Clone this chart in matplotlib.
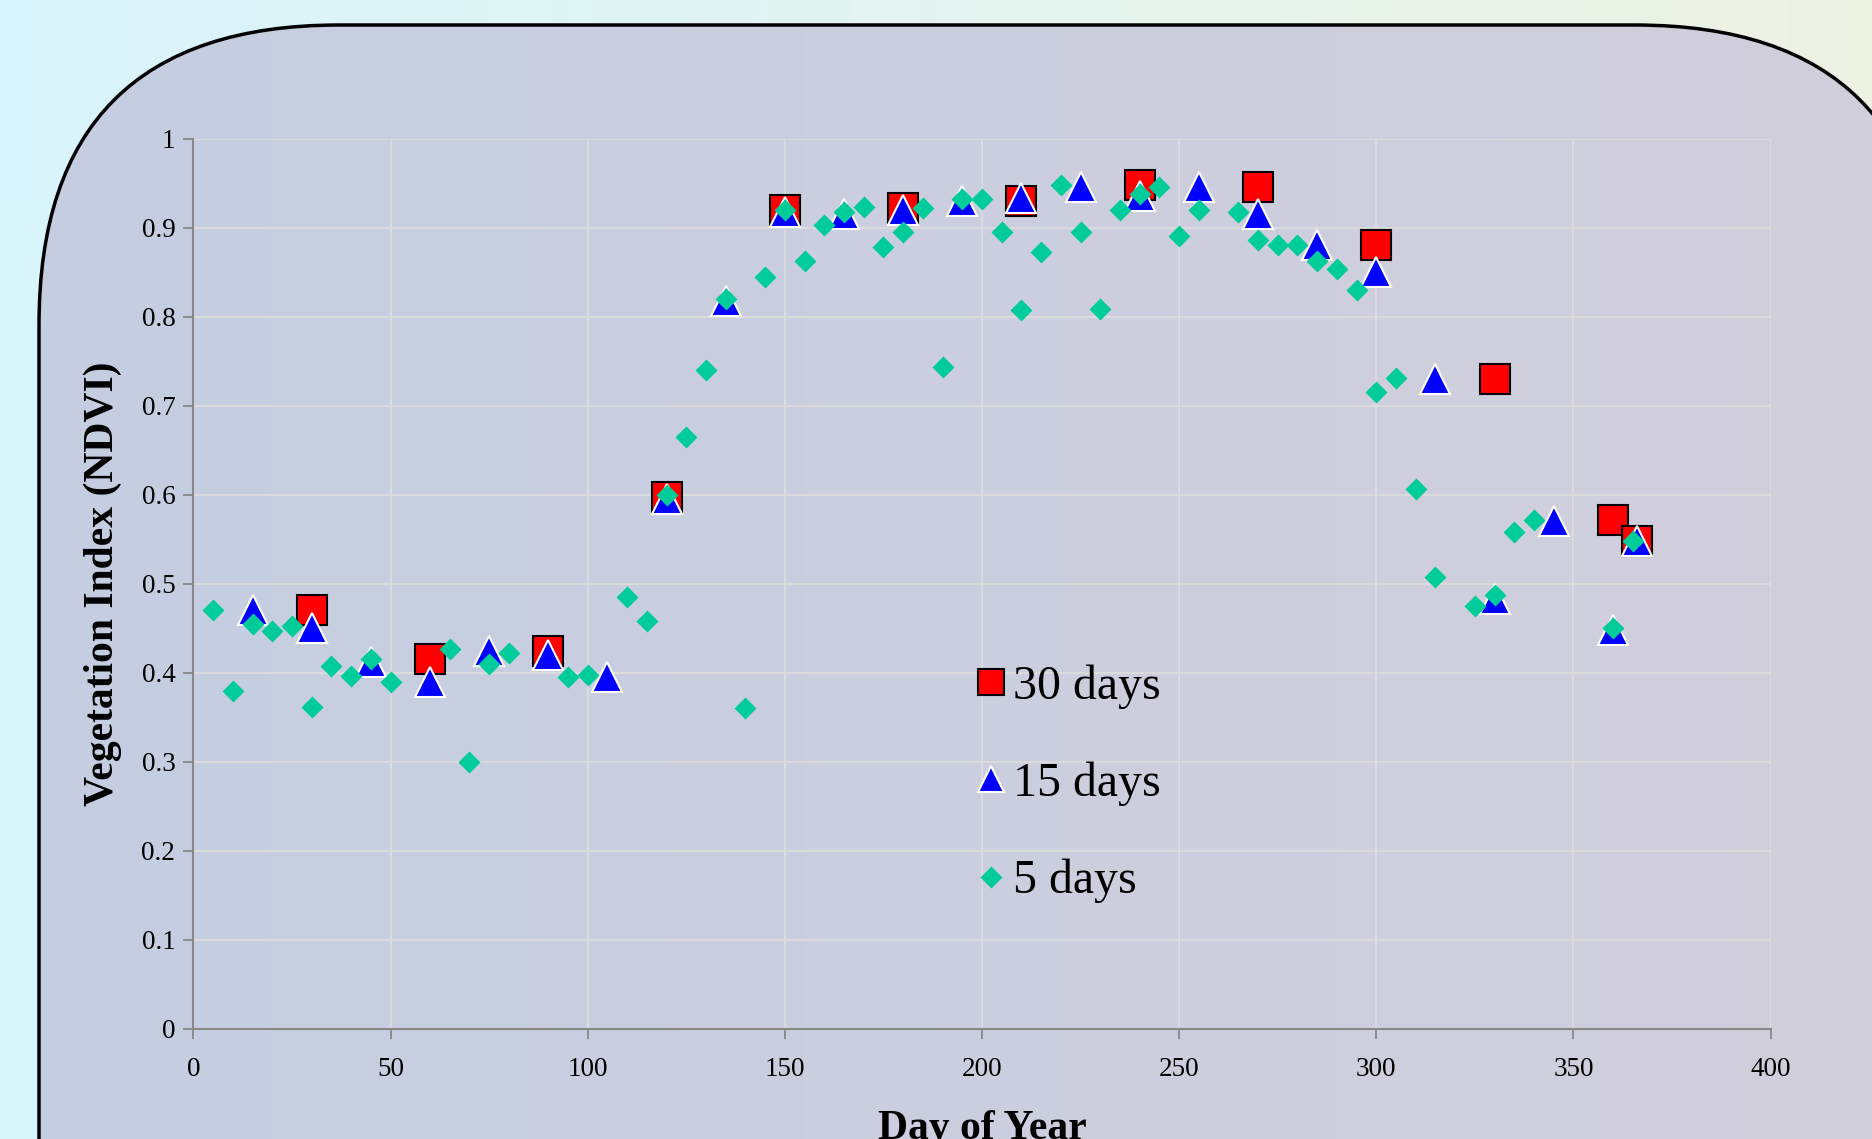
import matplotlib
matplotlib.use('Agg')

from matplotlib import pyplot as plt
from matplotlib.patches import FancyBboxPatch
from matplotlib.lines import Line2D
import numpy as np

plt.rcParams['font.family'] = ['Liberation Serif', 'DejaVu Serif']

# 30 day composites
days30 = [30, 60, 90, 120, 150, 180, 210, 240, 270, 300, 330, 360, 366]
ndvi30 = [0.47, 0.415, 0.425, 0.597, 0.92, 0.922, 0.93, 0.948, 0.945, 0.88, 0.73, 0.572, 0.548]

# 15 day composites
days15 = [15, 30, 45, 60, 75, 90, 105, 120, 135, 150, 165, 180, 195, 210, 225,
          240, 255, 270, 285, 300, 315, 330, 345, 360, 366]
ndvi15 = [0.47, 0.45, 0.412, 0.39, 0.425, 0.42, 0.395, 0.595, 0.818, 0.918, 0.915,
          0.92, 0.93, 0.933, 0.945, 0.935, 0.945, 0.915, 0.88, 0.85, 0.73, 0.483,
          0.57, 0.448, 0.548]

# 5 day composites
days5 = [5, 10, 15, 20, 25, 30, 35, 40, 45, 50, 65, 70, 75, 80, 95, 100, 110, 115,
         120, 125, 130, 135, 140, 145, 150, 155, 160, 165, 170, 175, 180, 185, 190,
         195, 200, 205, 210, 215, 220, 225, 230, 235, 240, 245, 250, 255, 265, 270,
         275, 280, 285, 290, 295, 300, 305, 310, 315, 325, 330, 335, 340, 360, 365]
ndvi5 = [0.47, 0.38, 0.455, 0.447, 0.452, 0.362, 0.408, 0.396, 0.415, 0.39, 0.427,
         0.30, 0.41, 0.422, 0.395, 0.397, 0.485, 0.458, 0.6, 0.665, 0.74, 0.82, 0.36,
         0.845, 0.92, 0.862, 0.903, 0.918, 0.923, 0.878, 0.895, 0.922, 0.743, 0.932,
         0.932, 0.895, 0.807, 0.872, 0.948, 0.895, 0.808, 0.92, 0.938, 0.945, 0.89,
         0.92, 0.918, 0.886, 0.88, 0.88, 0.862, 0.853, 0.83, 0.715, 0.731, 0.606,
         0.508, 0.475, 0.487, 0.558, 0.572, 0.45, 0.548]

W, H = 1872, 1139
fig = plt.figure(figsize=(W / 100, H / 100), dpi=100, facecolor='#d9f5fc')

# background panel with rounded corners
bg = fig.add_axes([0, 0, 1, 1], zorder=0)
bg.axis('off')
outer = np.linspace(0, 1, 200)[None, :]
outer_rgb = np.zeros((1, 200, 3))
outer_rgb[..., 0] = 0.85 + 0.08 * outer
outer_rgb[..., 1] = 0.96 - 0.01 * outer
outer_rgb[..., 2] = 0.99 - 0.1 * outer
bg.imshow(outer_rgb, extent=[0, W, 200, 0], aspect='auto', zorder=0)
panel = FancyBboxPatch((39, 25), 1935 - 39, 2000, boxstyle='round,pad=0,rounding_size=300',
                       facecolor='none', edgecolor='black', linewidth=2.5, zorder=3)
bg.add_patch(panel)
g = np.linspace(0, 1, 256)[None, :]
rgb = np.zeros((1, 256, 3))
rgb[..., 0] = (196 + 14 * g) / 255
rgb[..., 1] = (206 + 0 * g) / 255
rgb[..., 2] = (225 - 5 * g) / 255
im = bg.imshow(rgb, extent=[0, W, H, 0], aspect='auto', zorder=1)
im.set_clip_path(panel)
bg.set_xlim(0, W)
bg.set_ylim(H, 0)

ax = fig.add_axes([193.4 / W, 1 - 1029 / H, (1770.6 - 193.4) / W, (1029 - 138.5) / H], zorder=2)
ax.set_facecolor('none')

ax.plot(days30, ndvi30, linestyle='none', marker='s', markersize=21, markerfacecolor='#ff0000',
        markeredgecolor='black', markeredgewidth=1.5, zorder=3, label='30 days')
ax.plot(days15, ndvi15, linestyle='none', marker='^', markersize=21, markerfacecolor='#0000ff',
        markeredgecolor='white', markeredgewidth=1.5, zorder=4, label='15 days')
ax.plot(days5, ndvi5, linestyle='none', marker='D', markersize=11, markerfacecolor='#00cc99',
        markeredgecolor='none', zorder=5, label='5 days')

ax.set_xlim(0, 400)
ax.set_ylim(0, 1)
ax.set_xticks(np.arange(0, 401, 50))
ax.set_yticks(np.arange(0, 1.01, 0.1))
ax.set_yticklabels(['0'] + ['%.1f' % v for v in np.arange(0.1, 0.95, 0.1)] + ['1'])
ax.grid(True, color='#dddddd', linewidth=1.3)
ax.set_axisbelow(True)
for s in ['top', 'right']:
    ax.spines[s].set_visible(False)
for s in ['left', 'bottom']:
    ax.spines[s].set_color('#888888')
    ax.spines[s].set_linewidth(1.5)
ax.tick_params(direction='out', length=7, width=1.3, color='#888888', labelsize=19.5, pad=6)
ax.tick_params(axis='x', pad=13)

ax.set_ylabel('Vegetation Index (NDVI)', fontsize=30, fontweight='bold', labelpad=14)
fig.text((193.4 + 1770.6) / 2 / W, 1 - 1110 / H, 'Day of Year', fontsize=30,
         fontweight='bold', ha='center', va='top')

handles = [
    Line2D([], [], linestyle='none', marker='s', markersize=19, markerfacecolor='#ff0000',
           markeredgecolor='black', markeredgewidth=1.5),
    Line2D([], [], linestyle='none', marker='^', markersize=19, markerfacecolor='#0000ff',
           markeredgecolor='white', markeredgewidth=1.5),
    Line2D([], [], linestyle='none', marker='D', markersize=11, markerfacecolor='#00cc99',
           markeredgecolor='none'),
]
ax.legend(handles, ['30 days', '15 days', '5 days'], loc='center left',
          bbox_to_anchor=((934 - 193.4) / (1770.6 - 193.4), (1029 - 784) / (1029 - 138.5)),
          frameon=False, fontsize=34.5, labelspacing=1.1, handlelength=0.6, handletextpad=0.15)

plt.savefig('out.png', dpi=100, facecolor=fig.get_facecolor())
